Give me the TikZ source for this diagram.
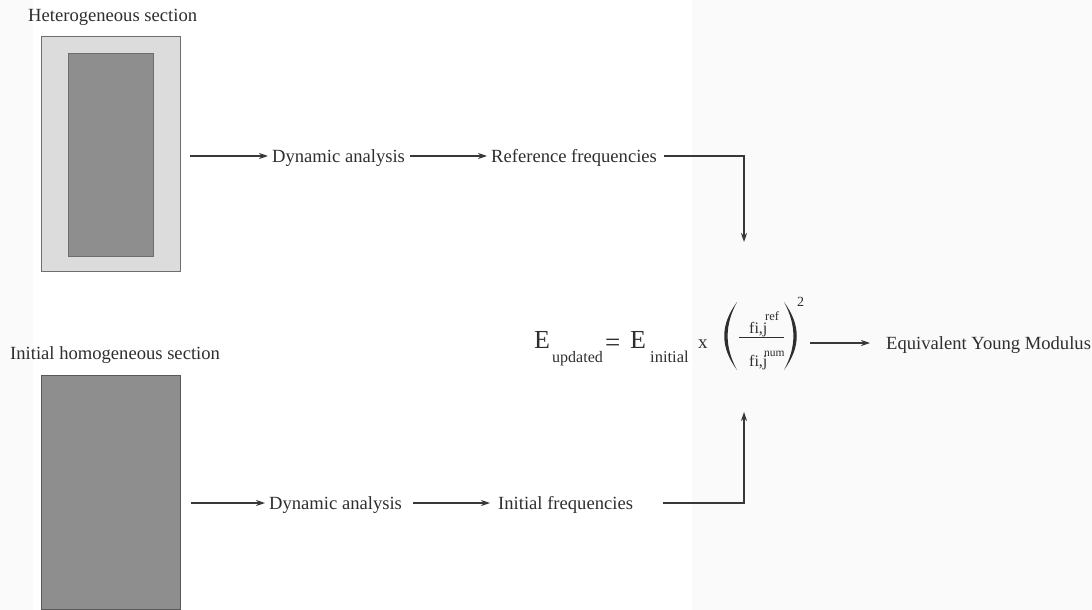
\documentclass[tikz,border=0pt]{standalone}
\usepackage{fontspec}
\setmainfont{Liberation Serif}
\usetikzlibrary{arrows.meta}
\definecolor{ink}{HTML}{2E2E2E}
\definecolor{lnc}{HTML}{383838}
\definecolor{lightfill}{HTML}{DCDCDC}
\definecolor{darkfill}{HTML}{8E8E8E}
\definecolor{edgec}{HTML}{6E6E6E}
\definecolor{faint}{HTML}{FAFAFA}
\begin{document}
\begin{tikzpicture}[x=1pt,y=-1pt,
  lbl/.style={text=ink, font=\fontsize{18.6}{22}\selectfont, inner xsep=4pt, inner ysep=0pt, text height=13pt, text depth=0pt},
  arr/.style={draw=lnc, line width=1.2pt, -{Stealth[length=9pt,width=6pt]}},
  ln/.style={draw=lnc, line width=1.2pt},
  ftxt/.style={text=ink, inner sep=0pt, anchor=base west},
  section/.style={draw=edgec, line width=1pt, inner sep=0pt, anchor=north west}]
\useasboundingbox (0,0) rectangle (1092,610);
\fill[faint] (692,0) rectangle (1092,610);
\fill[faint] (0,0) rectangle (33,610);

% heterogeneous section
\node[lbl, anchor=west, inner xsep=0pt] (hetlbl) at (28,15) {Heterogeneous section};
\node[section, fill=lightfill, minimum width=139pt, minimum height=235pt] (het) at (41,36) {};
\node[section, fill=darkfill, minimum width=85pt, minimum height=203pt] (core) at (68,53) {};

\node[lbl, anchor=west] (dyn1) at (268,156) {Dynamic analysis};
\node[lbl, anchor=west] (ref) at (487,156) {Reference frequencies};
\coordinate (topin) at (744,242);
\draw[arr] (het.east |- dyn1.west) ++(9,0) -- (dyn1.west);
\draw[arr] (dyn1.east) ++(1,0) -- (ref.west);
\draw[arr] (ref.east) ++(3,0) -| (topin);

% homogeneous section
\node[lbl, anchor=west, inner xsep=0pt] (homlbl) at (10,353) {Initial homogeneous section};
\node[section, draw=edgec!80!black, fill=darkfill, minimum width=139pt, minimum height=234pt] (hom) at (41,375) {};

\node[lbl, anchor=west] (dyn2) at (265,503) {Dynamic analysis};
\node[lbl, anchor=west] (ini) at (494,503) {Initial frequencies};
\coordinate (botin) at (744,412);
\draw[arr] (hom.east |- dyn2.west) ++(10,0) -- (dyn2.west);
\draw[arr] (dyn2.east) ++(7,0) -- ([xshift=-4pt]ini.west);
\draw[arr] (ini.east) ++(26,0) -| (botin);

% formula
\node[ftxt, font=\fontsize{26}{28}\selectfont] (e1) at (534,348) {E};
\node[ftxt, font=\fontsize{16}{18}\selectfont] (upd) at (552,362) {updated};
\node[ftxt, font=\fontsize{27}{28}\selectfont] (eqs) at (605,351) {=};
\node[ftxt, font=\fontsize{26}{28}\selectfont] (e2) at (630,348) {E};
\node[ftxt, font=\fontsize{16.5}{18}\selectfont] (inisub) at (650,362) {initial};
\node[ftxt, font=\fontsize{19}{20}\selectfont] (times) at (698,348) {x};
\fill[ink] (737,302) .. controls (720,325) and (720,347) .. (737,370)
           .. controls (724.5,347) and (724.5,325) .. (737,302) -- cycle;
\fill[ink] (784,302) .. controls (801,325) and (801,347) .. (784,370)
           .. controls (796.5,347) and (796.5,325) .. (784,302) -- cycle;
\draw[ln, draw=ink, line width=1.4pt] (739,337.5) -- (784,337.5);
\node[ftxt, font=\fontsize{16}{18}\selectfont] (numf) at (749,333) {fi,j};
\node[ftxt, font=\fontsize{12.5}{14}\selectfont] (numr) at (765,320) {ref};
\node[ftxt, font=\fontsize{16}{18}\selectfont] (denf) at (749,366) {fi,j};
\node[ftxt, font=\fontsize{11.5}{14}\selectfont] (denr) at (764,356) {num};
\node[ftxt, font=\fontsize{14}{15}\selectfont] (sq) at (797,306) {2};

\node[lbl, anchor=west] (eym) at (882,343) {Equivalent Young Modulus};
\draw[arr] (sq.east |- eym.west) ++(6,0) -- ([xshift=-12pt]eym.west);
\end{tikzpicture}
\end{document}
